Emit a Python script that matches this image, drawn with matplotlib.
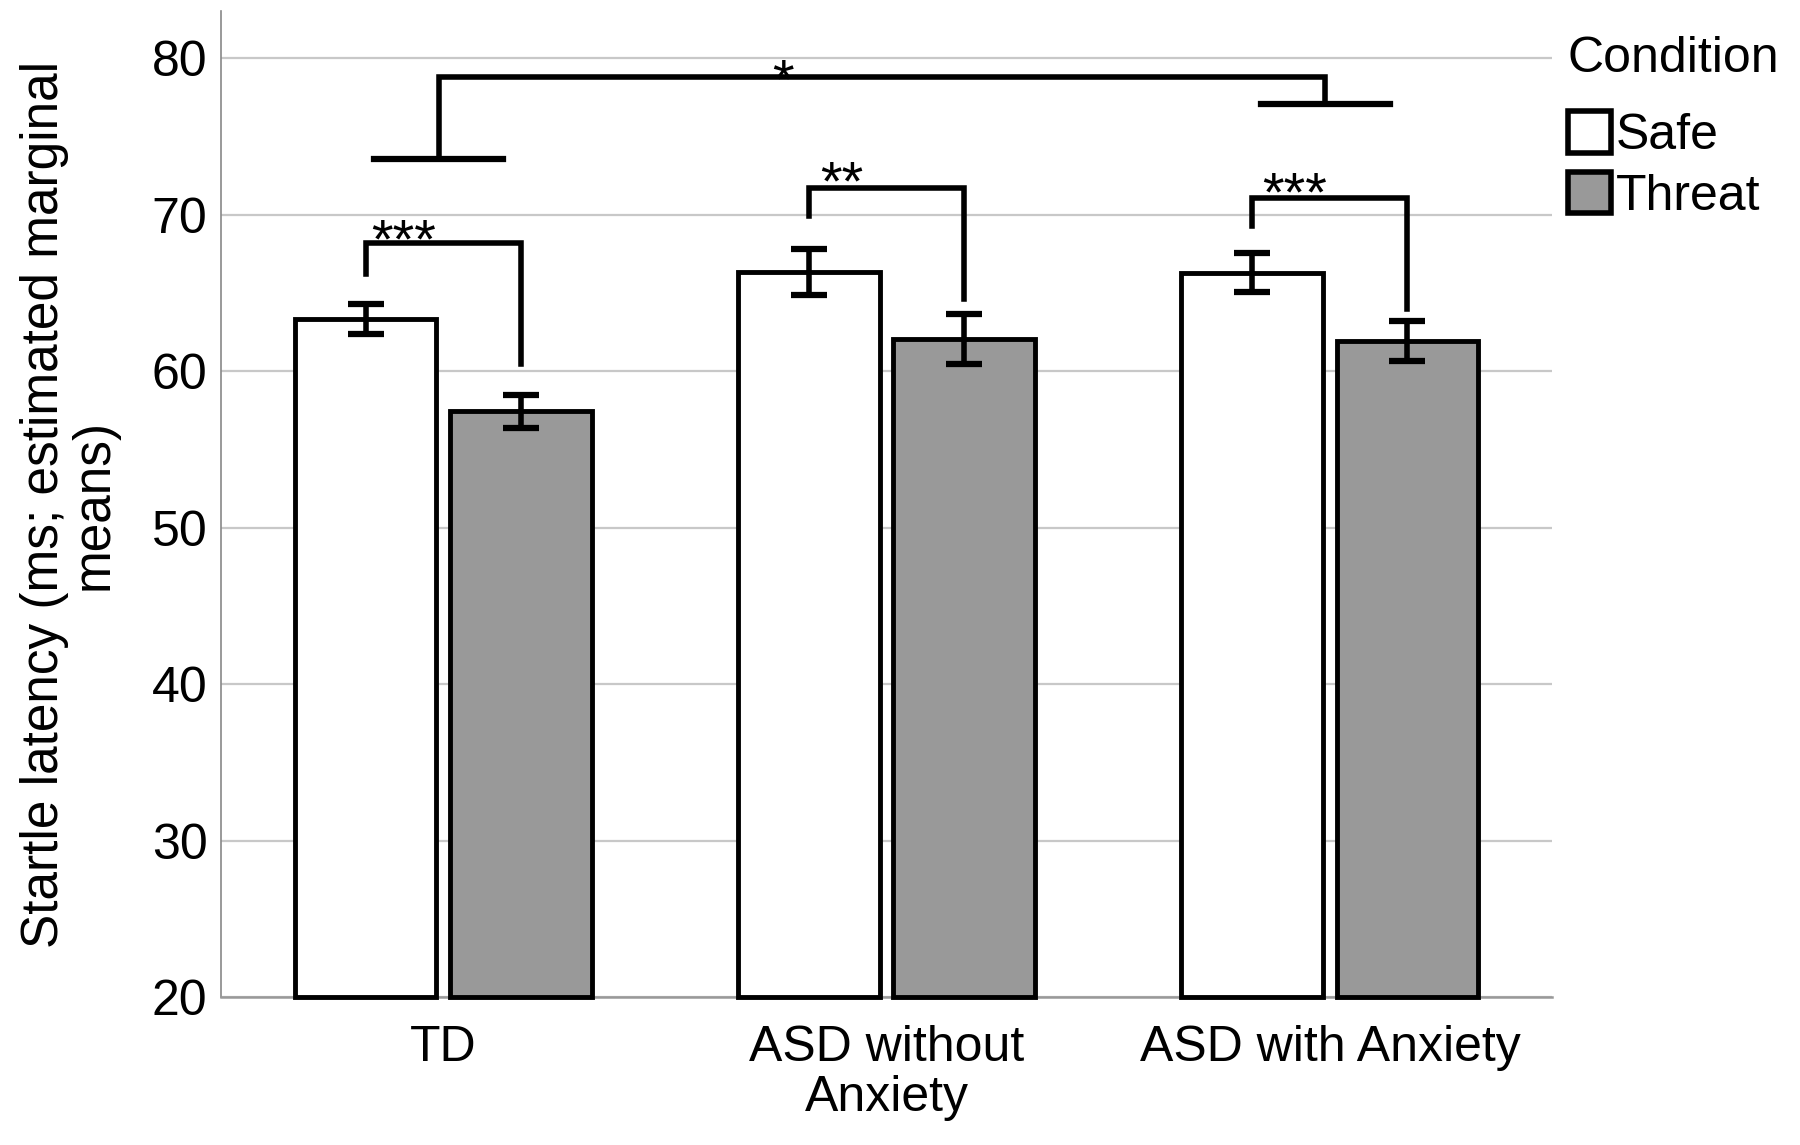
import matplotlib
matplotlib.use('Agg')
import matplotlib.pyplot as plt
from matplotlib.patches import Patch
import numpy as np

plt.rcParams['font.family'] = ['Liberation Sans', 'DejaVu Sans']

# 数据
groups = ['TD', 'ASD without\nAnxiety', 'ASD with Anxiety']
conditions = ['Safe', 'Threat']
safe_means = [63.35, 66.35, 66.3]
threat_means = [57.45, 62.05, 61.95]
safe_err = [0.95, 1.45, 1.25]
threat_err = [1.05, 1.6, 1.3]
bar_colors = ['#ffffff', '#999999']
y_ticks = [20, 30, 40, 50, 60, 70, 80]

# 显著性标记: (左x, 右x, 左端, 顶部, 右端, 文本x, 文本中心y, 文本)
pair_brackets = [
    (-0.175, 0.175, 66.2, 68.2, 60.5, -0.09, 69.3, '***'),
    (0.825, 1.175, 69.9, 71.7, 64.6, 0.90, 73.0, '**'),
    (1.825, 2.175, 69.3, 71.1, 64.0, 1.92, 72.3, '***'),
]
# 组间比较 TD vs ASD with Anxiety
overall = dict(left_x=-0.01, right_x=1.99, left_y=73.55, top_y=78.8, right_y=77.1,
               half=0.145, text_x=0.766, text_y=79.5, text='*')

FS = 36
STAR_FS = 40
BASE = 20

fig = plt.figure(figsize=(18, 11.45), dpi=100)
ax = fig.add_axes([0.123, 0.129, 0.739, 0.861])

x = np.arange(len(groups))
offset = 0.175
width = 0.32

for i, (means, errs) in enumerate([(safe_means, safe_err), (threat_means, threat_err)]):
    xpos = x + (i * 2 - 1) * offset
    ax.bar(xpos, np.array(means) - BASE, bottom=BASE, width=width,
           color=bar_colors[i], edgecolor='black', linewidth=3.5, zorder=3,
           clip_on=False)
    ax.errorbar(xpos, means, yerr=errs, fmt='none', ecolor='black',
                elinewidth=4, capsize=13, capthick=4.5, zorder=4)

lw = 4
for lx, rx, ly, ty, ry, tx, tcy, label in pair_brackets:
    ax.plot([lx, lx, rx, rx], [ly, ty, ty, ry], color='black', lw=lw,
            solid_joinstyle='miter', zorder=5)
    ax.text(tx, tcy - 2.0, label, ha='center', va='baseline', fontsize=STAR_FS)

o = overall
ax.plot([o['left_x'] - o['half'], o['left_x'] + o['half']], [o['left_y']] * 2,
        color='black', lw=lw + 0.5, zorder=5)
ax.plot([o['left_x'], o['left_x'], o['right_x'], o['right_x']],
        [o['left_y'], o['top_y'], o['top_y'], o['right_y']],
        color='black', lw=lw, solid_joinstyle='miter', zorder=5)
ax.plot([o['right_x'] - o['half'], o['right_x'] + o['half']], [o['right_y']] * 2,
        color='black', lw=lw + 0.5, zorder=5)
ax.text(o['text_x'], o['text_y'] - 2.0, o['text'], ha='center', va='baseline',
        fontsize=STAR_FS)

ax.set_xlim(-0.5, 2.5)
ax.set_ylim(BASE, 83)
ax.set_yticks(y_ticks)
ax.set_xticks(x)
ax.set_xticklabels(groups, fontsize=FS, linespacing=1.1)
ax.tick_params(axis='y', labelsize=FS, length=0, pad=10)
ax.tick_params(axis='x', length=0, pad=20)

ax.grid(True, axis='y', color='#c8c8c8', linewidth=1.6, zorder=0)
ax.set_axisbelow(True)
for s in ['top', 'right']:
    ax.spines[s].set_visible(False)
ax.spines['left'].set_color('#888888')
ax.spines['left'].set_linewidth(1.2)
ax.spines['bottom'].set_color('#999999')
ax.spines['bottom'].set_linewidth(1.8)

ax.set_ylabel('Startle latency (ms; estimated marginal\nmeans)', fontsize=37,
              linespacing=1.0, labelpad=24)

handles = [Patch(facecolor=c, edgecolor='black', linewidth=4) for c in bar_colors]
leg = fig.legend(handles, conditions, title='Condition', loc='upper left',
                 bbox_to_anchor=(1568 / 1800, 1 - 36 / 1145), frameon=False,
                 fontsize=FS, title_fontsize=FS, alignment='left',
                 handlelength=0.85, handleheight=0.9, handletextpad=0.1,
                 labelspacing=0.25, borderpad=0, borderaxespad=0)
leg._legend_box.sep = 21

fig.savefig('out.png', dpi=100, facecolor='white')
